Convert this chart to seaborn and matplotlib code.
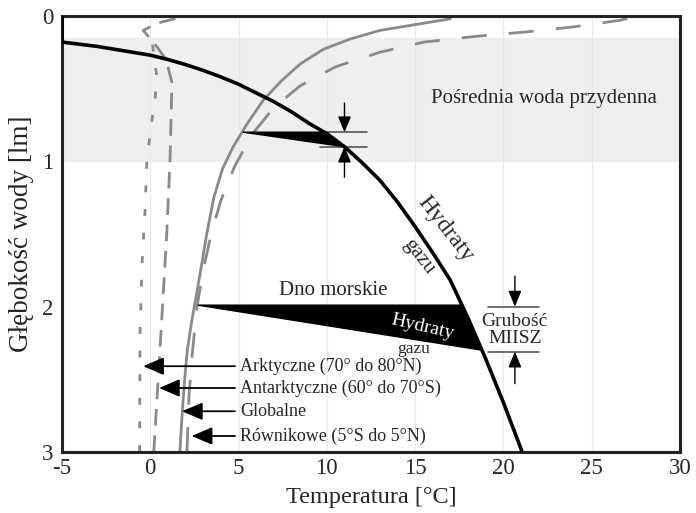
import numpy as np
import pandas as pd
import matplotlib
matplotlib.use('Agg')
import matplotlib.pyplot as plt
import seaborn as sns

# temperature [°C] vs depth [km]
hyd_temp = [-5, -5, -4, -3, -2, -1, 0, 1, 2, 3, 4, 5, 6, 7, 8, 9, 10, 11, 12, 13, 14, 15,
            16, 17, 18, 19, 20, 21, 21.05]
hyd_depth = [0.0, 0.18, 0.195, 0.21, 0.23, 0.25, 0.27, 0.30, 0.335, 0.375, 0.42, 0.47,
             0.53, 0.59, 0.66, 0.74, 0.81, 0.90, 1.01, 1.13, 1.28, 1.45, 1.63, 1.82,
             2.08, 2.36, 2.66, 2.98, 3.0]

arctic_temp = [-0.6, -0.58, -0.47, -0.3, -0.19, 0.05, 0.27, 0.35, 0.1]
arctic_depth = [3.0, 2.2, 1.72, 1.35, 1.0, 0.75, 0.58, 0.4, 0.17]

antarctic_temp = [0.2, 0.45, 0.66, 0.94, 1.12, 1.23, 0.9, 0.3, -0.4, 0.4, 1.7]
antarctic_depth = [3.0, 2.5, 2.07, 1.49, 0.99, 0.46, 0.3, 0.2, 0.1, 0.05, 0.01]

global_temp = [1.68, 1.8, 1.95, 2.1, 2.35, 2.6, 2.9, 3.2, 3.6, 4.1, 4.7, 5.5, 6.4, 7.4,
               8.5, 9.8, 11.3, 13.0, 15.0, 17.0]
global_depth = [3.0, 2.75, 2.5, 2.3, 2.1, 1.93, 1.72, 1.5, 1.25, 1.05, 0.90, 0.74, 0.58,
                0.45, 0.33, 0.23, 0.16, 0.10, 0.06, 0.02]

equator_temp = [2.08, 2.2, 2.4, 2.65, 3.0, 3.45, 4.0, 4.8, 5.8, 7.0, 8.5, 10.5, 13.0,
                15.5, 18.5, 21.3, 24.0, 26.6, 27.3]
equator_depth = [3.0, 2.6, 2.3, 2.0, 1.75, 1.5, 1.27, 1.03, 0.81, 0.63, 0.48, 0.35, 0.25,
                 0.18, 0.14, 0.11, 0.075, 0.03, 0.01]

# hydrate wedges (shallow and deep sea floor)
wedge1_temp = [5.25, 9.9, 10.45, 11.0]
wedge1_depth = [0.80, 0.80, 0.85, 0.90]
wedge2_temp = [2.7, 17.65, 18.25, 18.8]
wedge2_depth = [1.99, 1.99, 2.14, 2.30]

band_depth = [0.15, 1.0]

profile_labels = ['Arktyczne (70° do 80°N)', 'Antarktyczne (60° do 70°S)',
                  'Globalne', 'Równikowe (5°S do 5°N)']
label_depth = [2.41, 2.56, 2.72, 2.89]
arrow_tip_temp = [-0.4, 0.5, 1.8, 2.35]

sns.set_style('white')
plt.rcParams['font.family'] = ['Liberation Serif', 'DejaVu Serif']
plt.rcParams['axes.unicode_minus'] = False

fig = plt.figure(figsize=(6.96, 5.13), dpi=100)
ax = fig.add_axes([0.089, 0.119, 0.888, 0.850])

ax.axhspan(band_depth[0], band_depth[1], color='#efefef', zorder=0)
for t in [0, 5, 10, 15, 20, 25]:
    ax.axvline(t, color='#e8e8e8', lw=0.8, zorder=0)

gray = '#8a8a8a'
sns.lineplot(x=arctic_temp, y=arctic_depth, sort=False, estimator=None, ax=ax,
             color=gray, lw=2, linestyle=(0, (2.5, 6)))
sns.lineplot(x=antarctic_temp, y=antarctic_depth, sort=False, estimator=None, ax=ax,
             color=gray, lw=2, linestyle=(0, (6, 3.5)))
sns.lineplot(x=global_temp, y=global_depth, sort=False, estimator=None, ax=ax,
             color=gray, lw=2)
sns.lineplot(x=equator_temp, y=equator_depth, sort=False, estimator=None, ax=ax,
             color=gray, lw=2, linestyle=(0, (9, 8)))
sns.lineplot(x=hyd_temp, y=hyd_depth, sort=False, estimator=None, ax=ax,
             color='black', lw=2.6, zorder=5)

ax.fill(wedge1_temp, wedge1_depth, color='black', zorder=4)
ax.fill(wedge2_temp, wedge2_depth, color='black', zorder=4)

# thickness markers
tick_col = '#555555'
ax.plot([9.9, 12.3], [0.80, 0.80], color=tick_col, lw=1.2)
ax.plot([9.6, 12.3], [0.90, 0.90], color=tick_col, lw=1.2)
ax.plot([19.1, 22.0], [2.0, 2.0], color=tick_col, lw=1.2)
ax.plot([19.1, 22.0], [2.31, 2.31], color=tick_col, lw=1.2)
vprops = dict(arrowstyle='-|>,head_length=0.6,head_width=0.25', color='black', lw=1,
              mutation_scale=16, shrinkA=0, shrinkB=0)
ax.annotate('', xy=(11.0, 0.80), xytext=(11.0, 0.60), arrowprops=vprops)
ax.annotate('', xy=(11.0, 0.90), xytext=(11.0, 1.11), arrowprops=vprops)
ax.annotate('', xy=(20.65, 2.0), xytext=(20.65, 1.79), arrowprops=vprops)
ax.annotate('', xy=(20.65, 2.31), xytext=(20.65, 2.53), arrowprops=vprops)

# profile labels with arrows
hprops = dict(arrowstyle='-|>,head_length=0.7,head_width=0.3', color='black', lw=1.3,
              mutation_scale=18, shrinkA=0, shrinkB=0)
for lab, dep, tip in zip(profile_labels, label_depth, arrow_tip_temp):
    ax.annotate('', xy=(tip, dep), xytext=(4.8, dep), arrowprops=hprops)
    ax.text(5.1, dep, lab, fontsize=13, va='center', ha='left')

ax.text(22.3, 0.57, 'Pośrednia woda przydenna', fontsize=15, ha='center', va='center')
ax.text(16.7, 1.47, 'Hydraty', fontsize=17, rotation=-52, ha='center', va='center')
ax.text(15.2, 1.66, 'gazu', fontsize=15, rotation=-52, ha='center', va='center')
ax.text(10.35, 1.89, 'Dno morskie', fontsize=15, ha='center', va='center')
ax.text(15.4, 2.14, 'Hydraty', fontsize=14, rotation=-13, ha='center', va='center',
        color='white', zorder=6)
ax.text(14.9, 2.29, 'gazu', fontsize=12.5, ha='center', va='center', zorder=6)
ax.text(20.65, 2.16, 'Grubość\nMIISZ', fontsize=14, ha='center', va='center',
        linespacing=1.05, bbox=dict(facecolor='white', edgecolor='none', pad=1))

ax.set_xlim(-5, 30)
ax.set_ylim(3, 0)
ax.set_xticks([-5, 0, 5, 10, 15, 20, 25, 30])
ax.set_yticks([0, 1, 2, 3])
ax.tick_params(labelsize=16.5, length=0)
ax.tick_params(axis='x', pad=4)
ax.tick_params(axis='y', pad=6)
ax.set_xlabel('Temperatura [°C]', fontsize=17.5, labelpad=6)
ax.set_ylabel('Głębokość wody [lm]', fontsize=19.5, labelpad=6)
for s in ax.spines.values():
    s.set_color('#222222')
    s.set_linewidth(2.2)

fig.savefig('out.png', dpi=100)
